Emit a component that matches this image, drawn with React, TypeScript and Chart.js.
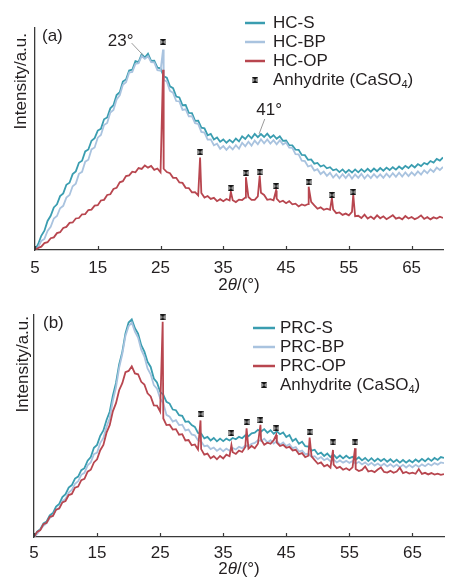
import { useEffect, useRef } from 'react';
import { Chart, registerables } from 'chart.js';

Chart.register(...registerables);

const FONT = '"Liberation Sans", Arial, sans-serif';
const TEXT = '#231f20';
const AXIS = '#3a3a3a';
const C_S = '#3a9db0';
const C_BP = '#a9c3df';
const C_OP = '#b8464f';

// ---------- shared x grid (2θ, degrees) ----------
const xGrid = [
  5, 5.5, 6, 6.5, 7, 7.5, 8, 8.5, 9, 9.5,
  10, 10.5, 11, 11.5, 12, 12.5, 13, 13.5, 14, 14.5,
  15, 15.5, 16, 16.5, 17, 17.5, 18, 18.5, 19, 19.5,
  20, 20.5, 21, 21.5, 22, 22.5, 23, 23.5, 24, 24.5,
  25, 25.5, 26, 26.5, 27, 27.5, 28, 28.5, 29, 29.5,
  30, 30.5, 31, 31.5, 32, 32.5, 33, 33.5, 34, 34.5,
  35, 35.5, 36, 36.5, 37, 37.5, 38, 38.5, 39, 39.5,
  40, 40.5, 41, 41.5, 42, 42.5, 43, 43.5, 44, 44.5,
  45, 45.5, 46, 46.5, 47, 47.5, 48, 48.5, 49, 49.5,
  50, 50.5, 51, 51.5, 52, 52.5, 53, 53.5, 54, 54.5,
  55, 55.5, 56, 56.5, 57, 57.5, 58, 58.5, 59, 59.5,
  60, 60.5, 61, 61.5, 62, 62.5, 63, 63.5, 64, 64.5,
  65, 65.5, 66, 66.5, 67, 67.5, 68, 68.5, 69, 69.5,
  70,
];
const xTicks = [5, 15, 25, 35, 45, 55, 65];

// ---------- panel (a) ----------
const hcS = [
  0.0, 2.6, 6.4, 8.7, 13.1, 15.4, 19.2, 20.6, 24.3, 25.5,
  29.4, 30.3, 34.2, 35.4, 39.3, 40.2, 44.4, 45.3, 49.2, 50.4,
  53.8, 54.6, 58.9, 59.7, 63.8, 65.2, 69.8, 71.1, 75.9, 76.8,
  80.9, 81.2, 85.1, 84.6, 88.2, 86.7, 88.4, 85.2, 85.3, 82.1,
  81.8, 78.2, 77.6, 73.7, 72.9, 69.1, 68.7, 65.2, 65.3, 61.8,
  61.7, 58.2, 58.3, 55.1, 54.8, 51.7, 52.3, 49.8, 50.7, 48.8,
  49.8, 48.3, 49.6, 48.4, 50.2, 48.9, 51.2, 50.0, 51.8, 50.3,
  52.3, 50.8, 52.2, 50.9, 52.4, 50.6, 51.7, 50.1, 51.2, 49.2,
  49.3, 47.2, 47.1, 45.2, 45.1, 42.8, 42.7, 40.6, 40.8, 38.9,
  39.2, 37.6, 38.2, 36.8, 37.3, 35.9, 36.4, 35.1, 36.3, 34.8,
  36.1, 34.9, 36.3, 35.0, 36.4, 35.2, 36.6, 35.3, 36.7, 35.5,
  36.9, 35.7, 37.1, 36.0, 37.3, 36.2, 37.6, 36.5, 37.9, 36.9,
  38.3, 37.2, 38.7, 37.8, 39.2, 38.6, 40.1, 39.4, 41.0, 40.3,
  41.7,
];
const hcBP = [
  0.0, 1.2, 4.1, 5.0, 8.6, 10.4, 14.2, 15.3, 18.8, 19.9,
  23.6, 24.8, 28.7, 29.9, 34.3, 35.2, 39.8, 40.7, 45.3, 46.2,
  50.6, 51.8, 56.3, 57.2, 61.9, 63.1, 67.8, 69.7, 74.4, 75.6,
  79.9, 80.2, 83.8, 84.1, 87.4, 86.1, 87.3, 84.6, 84.5, 81.0,
  80.8, 76.6, 75.9, 71.7, 70.8, 67.1, 66.9, 63.1, 63.4, 60.2,
  60.3, 57.1, 56.8, 53.2, 52.9, 49.7, 49.8, 47.2, 47.9, 45.6,
  46.8, 45.1, 46.7, 45.3, 47.2, 45.6, 48.3, 46.7, 48.8, 47.0,
  49.3, 47.6, 49.9, 48.1, 49.8, 47.9, 49.5, 47.6, 49.4, 47.5,
  48.4, 46.1, 46.0, 43.2, 43.1, 40.2, 40.0, 37.6, 38.1, 35.8,
  36.4, 34.2, 35.3, 33.4, 34.8, 32.6, 34.2, 32.3, 34.1, 32.4,
  34.2, 32.1, 34.0, 32.5, 34.3, 32.2, 33.9, 32.4, 34.2, 32.6,
  34.1, 32.5, 34.4, 32.8, 34.6, 33.0, 34.8, 33.1, 34.9, 33.3,
  35.0, 33.6, 35.4, 34.0, 35.9, 34.6, 36.4, 35.2, 37.1, 36.0,
  37.4,
];
const hcOP = [
  0.0, 0.9, 1.5, 3.1, 3.5, 5.3, 5.7, 7.6, 8.0, 9.9,
  10.4, 12.2, 12.4, 14.2, 14.4, 16.1, 16.2, 18.0, 18.2, 20.0,
  20.2, 22.3, 22.6, 24.8, 25.1, 27.5, 28.0, 30.5, 31.0, 33.3,
  33.6, 35.3, 35.0, 36.9, 36.5, 38.1, 37.1, 37.9, 36.1, 36.7,
  35.0, 36.6, 35.1, 34.6, 32.5, 32.5, 30.4, 30.2, 28.0, 27.9,
  26.0, 26.1, 24.6, 25.7, 23.6, 24.3, 23.0, 23.5, 22.0, 22.9,
  22.0, 23.0, 22.3, 22.4, 21.6, 22.7, 22.5, 23.6, 23.9, 22.6,
  22.6, 24.2, 25.8, 24.8, 22.6, 22.9, 22.4, 23.1, 21.6, 22.2,
  21.1, 22.0, 20.6, 20.9, 19.6, 20.5, 20.0, 20.7, 21.7, 20.1,
  18.6, 19.2, 18.1, 18.6, 18.1, 18.3, 16.6, 16.9, 15.8, 16.4,
  15.6, 17.2, 15.2, 15.4, 14.4, 15.9, 14.2, 15.1, 14.0, 15.6,
  14.3, 15.2, 13.9, 14.8, 15.7, 14.1, 14.6, 13.8, 15.3, 14.2,
  14.9, 13.9, 14.5, 15.6, 14.0, 14.8, 13.8, 14.7, 14.2, 15.0,
  14.4,
];
const peakXA = [25.4, 31.3, 36.2, 38.6, 40.8, 43.4, 48.6, 52.3, 55.7];
const hcOPPeakY = [81.2, 41.7, 26.2, 32.8, 33.5, 26.8, 28.5, 23.4, 25.0];
const hcBPPeakX = [25.4];
const hcBPPeakY = [90.3];
const markerYA = [93.7, 44.1, 27.9, 34.7, 35.1, 28.8, 30.6, 24.8, 26.1];

// ---------- panel (b) ----------
const prcS = [
  0.0, 2.4, 3.5, 6.1, 7.0, 9.7, 10.8, 13.7, 14.9, 18.0,
  19.3, 22.3, 23.4, 26.3, 27.2, 30.1, 31.0, 34.4, 36.0, 40.2,
  41.5, 45.6, 48.0, 52.7, 56.4, 63.6, 69.4, 77.7, 83.4, 91.7,
  96.6, 98.0, 94.0, 91.6, 86.4, 83.5, 78.9, 76.6, 71.4, 69.6,
  65.4, 64.1, 60.9, 60.1, 57.4, 57.1, 54.9, 54.6, 51.9, 52.1,
  50.4, 49.6, 46.9, 46.6, 44.4, 45.1, 43.5, 44.6, 43.1, 44.3,
  43.2, 44.3, 43.5, 44.6, 44.0, 45.1, 44.5, 45.8, 45.4, 46.7,
  47.0, 48.3, 47.5, 48.6, 47.0, 48.1, 46.5, 47.6, 46.3, 47.1,
  45.0, 45.9, 43.2, 44.2, 42.0, 42.9, 40.9, 40.7, 38.9, 39.3,
  37.3, 38.0, 36.5, 37.6, 36.0, 37.1, 35.5, 36.7, 35.4, 36.6,
  35.5, 36.1, 34.8, 35.9, 34.5, 35.6, 34.2, 35.5, 34.1, 35.3,
  34.2, 35.2, 33.9, 35.0, 33.7, 34.8, 33.5, 34.7, 33.5, 34.6,
  33.6, 34.9, 33.9, 35.2, 34.1, 35.4, 34.3, 35.6, 34.7, 36.0,
  35.6,
];
const prcBP = [
  0.0, 1.4, 3.3, 5.1, 6.2, 8.5, 9.6, 12.2, 13.2, 16.1,
  17.2, 20.0, 21.2, 24.0, 25.1, 28.0, 28.9, 32.3, 33.6, 37.3,
  38.0, 42.3, 44.6, 49.6, 53.5, 61.3, 67.4, 76.2, 82.4, 90.6,
  95.0, 96.6, 92.5, 89.8, 84.4, 81.3, 75.9, 73.3, 68.4, 66.8,
  62.4, 60.3, 55.0, 54.2, 52.0, 52.6, 50.4, 50.6, 48.0, 48.4,
  46.2, 45.8, 43.6, 43.0, 40.9, 41.2, 39.6, 40.3, 38.8, 39.9,
  38.6, 39.8, 38.9, 40.1, 39.4, 40.6, 40.0, 41.2, 40.9, 42.0,
  42.4, 43.6, 43.2, 44.3, 42.6, 43.6, 42.1, 43.2, 41.6, 42.6,
  41.0, 41.8, 40.0, 40.5, 38.5, 38.9, 37.3, 37.5, 36.1, 36.4,
  35.1, 36.0, 34.6, 35.4, 34.1, 34.9, 33.6, 34.5, 33.5, 34.3,
  33.4, 34.2, 33.0, 33.9, 32.7, 33.6, 32.4, 33.4, 32.2, 33.1,
  32.0, 33.0, 31.8, 32.8, 31.6, 32.6, 31.4, 32.5, 31.3, 32.4,
  31.4, 32.5, 31.6, 32.7, 31.9, 33.0, 32.2, 33.3, 32.6, 33.6,
  33.3,
];
const prcOP = [
  0.0, 2.3, 3.1, 5.8, 6.4, 9.1, 9.5, 12.3, 12.8, 15.6,
  16.2, 18.9, 19.4, 22.2, 22.7, 25.6, 26.2, 29.4, 30.3, 33.6,
  35.0, 39.1, 41.5, 47.0, 50.4, 56.6, 60.3, 66.1, 69.3, 74.2,
  74.8, 76.9, 73.7, 73.3, 69.9, 68.7, 64.7, 63.3, 59.3, 59.2,
  56.5, 53.4, 50.4, 50.6, 48.4, 48.6, 46.1, 46.3, 43.5, 43.7,
  41.3, 41.7, 39.4, 39.6, 37.1, 37.6, 35.5, 36.4, 35.0, 36.5,
  35.4, 37.1, 36.4, 38.2, 37.4, 38.9, 38.3, 40.6, 39.8, 41.0,
  40.0, 42.0, 43.8, 41.6, 42.5, 42.0, 43.6, 42.5, 41.0, 41.5,
  40.2, 40.6, 39.0, 39.3, 37.3, 37.8, 36.0, 36.6, 36.3, 34.6,
  33.0, 33.6, 31.8, 32.5, 31.2, 32.6, 31.0, 31.6, 30.3, 31.0,
  30.1, 31.4, 30.6, 29.7, 30.2, 31.8, 29.5, 29.9, 29.2, 30.4,
  31.3, 29.3, 29.0, 29.8, 28.9, 29.5, 31.2, 28.8, 29.3, 28.6,
  29.0, 28.5, 30.6, 28.4, 28.9, 28.2, 28.8, 28.1, 28.5, 28.0,
  28.3,
];
const peakXB = [25.4, 31.4, 36.3, 38.7, 40.9, 43.4, 48.7, 52.4, 55.9];
const prcOPPeakY = [97.0, 52.5, 41.4, 49.0, 50.5, 46.0, 44.8, 39.2, 40.0];
const markerYB = [99.0, 55.4, 46.8, 51.8, 52.7, 49.0, 47.4, 42.6, 42.6];

const seriesNamesA = ['HC-S', 'HC-BP', 'HC-OP'];
const seriesNamesB = ['PRC-S', 'PRC-BP', 'PRC-OP'];

type Pt = { x: number; y: number };

function combine(grid: number[], ys: number[], px: number[] = [], py: number[] = []): Pt[] {
  const pts: Pt[] = grid.map((x, i) => ({ x, y: ys[i] }));
  px.forEach((x, i) => pts.push({ x, y: py[i] }));
  pts.sort((a, b) => a.x - b.x);
  return pts;
}

function makeMarker(): HTMLCanvasElement {
  const c = document.createElement('canvas');
  c.width = 6;
  c.height = 6;
  const g = c.getContext('2d')!;
  g.fillStyle = '#9c9c9c';
  g.fillRect(0, 0, 6, 6);
  g.fillStyle = '#151515';
  g.beginPath();
  g.moveTo(0, 0); g.lineTo(6, 0); g.lineTo(3, 3); g.closePath();
  g.moveTo(0, 6); g.lineTo(6, 6); g.lineTo(3, 3); g.closePath();
  g.fill();
  return c;
}

type Cfg = {
  key: string;
  h: number;
  label: string;
  names: string[];
  s: Pt[];
  bp: Pt[];
  op: Pt[];
  markers: Pt[];
  padTop: number;
  padRight: number;
  yWidth: number;
  xHeight: number;
  tickPad: number;
  labelX: number;
  labelBase: number;
  yTitleX: number;
  yTitleTop: number;
  xTitleOff: number;
  legLine: [number, number];
  legText: number;
  legRows: number[];
  notes: { text: string; tx: number; ty: number; align: CanvasTextAlign; l1: [number, number]; l2: [number, number] }[];
};

const cfgA: Cfg = {
  key: 'a', h: 300, label: '(a)', names: seriesNamesA,
  s: combine(xGrid, hcS),
  bp: combine(xGrid, hcBP, hcBPPeakX, hcBPPeakY),
  op: combine(xGrid, hcOP, peakXA, hcOPPeakY),
  markers: peakXA.map((x, i) => ({ x, y: markerYA[i] })),
  padTop: 28, padRight: 6, yWidth: 35, xHeight: 50, tickPad: 8,
  labelX: 42, labelBase: 41, yTitleX: 25.5, yTitleTop: 33, xTitleOff: 35,
  legLine: [245, 265], legText: 273, legRows: [23, 42, 61, 80],
  notes: [
    { text: '23°', tx: 20.7, ty: 94.0, align: 'right', l1: [20.4, 93.2], l2: [22.2, 87.8] },
    { text: '41°', tx: 42.3, ty: 63.1, align: 'center', l1: [41.6, 59.0], l2: [40.7, 52.3] },
  ],
};

const cfgB: Cfg = {
  key: 'b', h: 281, label: '(b)', names: seriesNamesB,
  s: combine(xGrid, prcS),
  bp: combine(xGrid, prcBP),
  op: combine(xGrid, prcOP, peakXB, prcOPPeakY),
  markers: peakXB.map((x, i) => ({ x, y: markerYB[i] })),
  padTop: 15, padRight: 0, yWidth: 34, xHeight: 44, tickPad: 6,
  labelX: 43, labelBase: 28, yTitleX: 28, yTitleTop: 16, xTitleOff: 32,
  legLine: [253, 275], legText: 280, legRows: [28, 47, 66, 85],
  notes: [],
};

function Panel({ cfg }: { cfg: Cfg }) {
  const ref = useRef<HTMLCanvasElement | null>(null);
  useEffect(() => {
    if (!ref.current) return;
    const marker = makeMarker();
    const colors = [C_S, C_BP, C_OP];
    const decor = {
      id: 'decor-' + cfg.key,
      afterDraw(chart: any) {
        const { ctx, chartArea } = chart;
        const xs = chart.scales.x;
        const ys = chart.scales.y;
        ctx.save();
        // inward tick marks
        ctx.strokeStyle = AXIS;
        ctx.lineWidth = 1.2;
        xTicks.forEach((v) => {
          const px = Math.round(xs.getPixelForValue(v)) + 0.5;
          ctx.beginPath();
          ctx.moveTo(px, chartArea.bottom);
          ctx.lineTo(px, chartArea.bottom - 4);
          ctx.stroke();
        });
        ctx.fillStyle = TEXT;
        ctx.font = `17px ${FONT}`;
        // y title
        ctx.save();
        ctx.translate(cfg.yTitleX, cfg.yTitleTop);
        ctx.rotate(-Math.PI / 2);
        ctx.textAlign = 'right';
        ctx.textBaseline = 'alphabetic';
        ctx.fillText('Intensity/a.u.', 0, 0);
        ctx.restore();
        // x title 2θ/(°)
        const cx = (chartArea.left + chartArea.right) / 2;
        const ty = chartArea.bottom + cfg.xTitleOff;
        ctx.textBaseline = 'middle';
        ctx.textAlign = 'left';
        ctx.font = `17px ${FONT}`;
        const w1 = ctx.measureText('2').width;
        const w3 = ctx.measureText('/(°)').width;
        ctx.font = `italic 17px ${FONT}`;
        const w2 = ctx.measureText('θ').width;
        let sx = cx - (w1 + w2 + w3) / 2;
        ctx.font = `17px ${FONT}`;
        ctx.fillText('2', sx, ty);
        sx += w1;
        ctx.font = `italic 17px ${FONT}`;
        ctx.fillText('θ', sx, ty);
        sx += w2;
        ctx.font = `17px ${FONT}`;
        ctx.fillText('/(°)', sx, ty);
        // panel label
        ctx.textBaseline = 'alphabetic';
        ctx.fillText(cfg.label, cfg.labelX, cfg.labelBase);
        // legend
        ctx.textBaseline = 'middle';
        cfg.names.forEach((n, i) => {
          const ry = cfg.legRows[i];
          ctx.strokeStyle = colors[i];
          ctx.lineWidth = 2.5;
          ctx.beginPath();
          ctx.moveTo(cfg.legLine[0], ry);
          ctx.lineTo(cfg.legLine[1], ry);
          ctx.stroke();
          ctx.fillStyle = TEXT;
          ctx.fillText(n, cfg.legText, ry);
        });
        const ry = cfg.legRows[3];
        const mx = (cfg.legLine[0] + cfg.legLine[1]) / 2;
        ctx.drawImage(marker, Math.round(mx - 3), Math.round(ry - 3));
        let lx = cfg.legText;
        const a1 = 'Anhydrite (CaSO';
        ctx.fillText(a1, lx, ry);
        lx += ctx.measureText(a1).width;
        ctx.font = `11px ${FONT}`;
        ctx.fillText('4', lx, ry + 5);
        lx += ctx.measureText('4').width;
        ctx.font = `17px ${FONT}`;
        ctx.fillText(')', lx, ry);
        // angle notes
        cfg.notes.forEach((nt) => {
          ctx.strokeStyle = '#9a9a9a';
          ctx.lineWidth = 1;
          ctx.beginPath();
          ctx.moveTo(xs.getPixelForValue(nt.l1[0]), ys.getPixelForValue(nt.l1[1]));
          ctx.lineTo(xs.getPixelForValue(nt.l2[0]), ys.getPixelForValue(nt.l2[1]));
          ctx.stroke();
          ctx.fillStyle = TEXT;
          ctx.textAlign = nt.align;
          ctx.textBaseline = 'middle';
          ctx.fillText(nt.text, xs.getPixelForValue(nt.tx), ys.getPixelForValue(nt.ty));
        });
        ctx.restore();
      },
    };
    const line = (label: string, data: Pt[], color: string, order: number) => ({
      type: 'line' as const,
      label,
      data,
      borderColor: color,
      backgroundColor: color,
      borderWidth: 1.8,
      pointRadius: 0,
      tension: 0,
      fill: false,
      order,
    });
    const chart = new Chart(ref.current, {
      type: 'line',
      data: {
        datasets: [
          {
            type: 'scatter' as const,
            label: 'Anhydrite (CaSO4)',
            data: cfg.markers,
            pointStyle: marker,
            pointRadius: 3,
            showLine: false,
            clip: false,
            order: 0,
          } as any,
          line(cfg.names[2], cfg.op, C_OP, 1),
          line(cfg.names[1], cfg.bp, C_BP, 2),
          line(cfg.names[0], cfg.s, C_S, 3),
        ],
      },
      options: {
        animation: false,
        responsive: false,
        maintainAspectRatio: false,
        layout: { padding: { top: cfg.padTop, right: cfg.padRight, left: 0, bottom: 0 } },
        plugins: { legend: { display: false }, tooltip: { enabled: false }, title: { display: false } },
        scales: {
          x: {
            type: 'linear',
            min: 5,
            max: 70,
            grid: { display: false, drawTicks: false },
            border: { display: true, color: AXIS, width: 1.3 },
            ticks: { color: TEXT, font: { family: FONT, size: 17 }, padding: cfg.tickPad, maxRotation: 0, autoSkip: false },
            afterBuildTicks: (s: any) => {
              s.ticks = xTicks.map((v) => ({ value: v }));
            },
            afterFit: (s: any) => {
              s.height = cfg.xHeight;
            },
          },
          y: {
            type: 'linear',
            min: 0,
            max: 100,
            grid: { display: false, drawTicks: false },
            border: { display: true, color: AXIS, width: 1.3 },
            ticks: { display: false },
            afterFit: (s: any) => {
              s.width = cfg.yWidth;
            },
          },
        },
      } as any,
      plugins: [decor],
    });
    return () => chart.destroy();
  }, [cfg]);
  return <canvas ref={ref} width={449} height={cfg.h} style={{ display: 'block' }} />;
}

export default function App() {
  return (
    <div style={{ position: 'absolute', left: 0, top: 0, width: 449, background: '#fff' }}>
      <Panel cfg={cfgA} />
      <Panel cfg={cfgB} />
    </div>
  );
}
